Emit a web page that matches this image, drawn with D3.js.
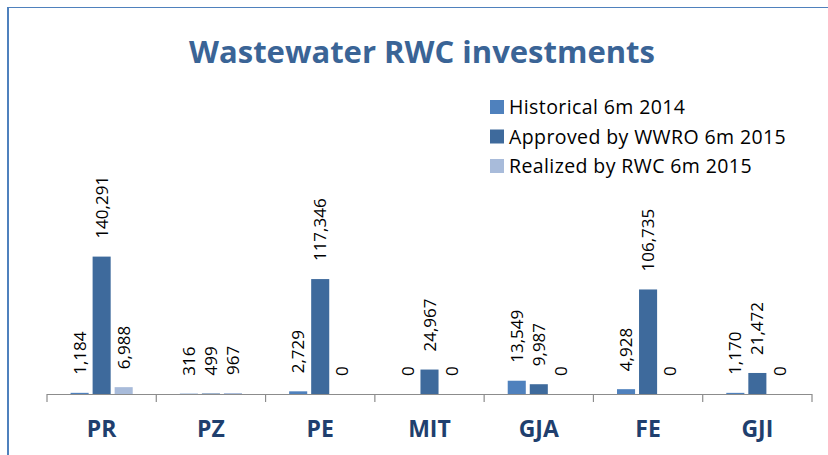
<!DOCTYPE html>
<html>
<head>
<meta charset="utf-8">
<script src="https://cdn.jsdelivr.net/npm/d3@7"></script>
<style>
  body { margin: 0; background: #fff; }
  text { font-family: "Open Sans", sans-serif; }
</style>
</head>
<body>
<svg id="chart" width="828" height="455"></svg>
<script>
// data
const categories = ["PR", "PZ", "PE", "MIT", "GJA", "FE", "GJI"];
const seriesNames = ["Historical 6m 2014", "Approved by WWRO 6m 2015", "Realized by RWC 6m 2015"];
const historical = [1184, 316, 2729, 0, 13549, 4928, 1170];
const approved = [140291, 499, 117346, 24967, 9987, 106735, 21472];
const realized = [6988, 967, 0, 0, 0, 0, 0];
const colors = ["#4f81bd", "#3e6a9c", "#a8bbda"];

const svg = d3.select("#chart");
const width = +svg.attr("width");
const height = +svg.attr("height");

const seriesValues = [historical, approved, realized];
const rows = categories.map((c, i) => ({
  cat: c,
  values: seriesNames.map((s, j) => ({ series: s, idx: j, value: seriesValues[j][i] }))
}));

// frame (left + top border only)
svg.append("line").attr("x1", 8).attr("x2", 8).attr("y1", 7).attr("y2", height)
    .style("stroke", "#4f81bd").style("stroke-width", 2);
svg.append("line").attr("x1", 7).attr("x2", width).attr("y1", 7.5).attr("y2", 7.5)
    .style("stroke", "#4f81bd").style("stroke-width", 1.2);

// title
svg.append("text")
    .text("Wastewater RWC investments")
    .attr("x", 422)
    .attr("y", 63)
    .attr("text-anchor", "middle")
    .style("font-size", "31px")
    .style("font-weight", "bold")
    .style("fill", "#3a6496");

// scales
const x0 = d3.scaleBand().domain(categories).range([47, 812]).padding(0);
const x1 = d3.scaleBand().domain(seriesNames).range([0, x0.bandwidth()])
    .paddingInner(0.18).paddingOuter(1.07);
const y = d3.scaleLinear().domain([0, 160000]).range([394, 237.3]);

// bars
const groups = svg.selectAll("g.group").data(rows).join("g")
    .attr("class", "group")
    .attr("transform", d => `translate(${x0(d.cat)},0)`);

groups.selectAll("rect").data(d => d.values).join("rect")
    .attr("x", d => x1(d.series))
    .attr("y", d => y(d.value))
    .attr("width", x1.bandwidth())
    .attr("height", d => y(0) - y(d.value))
    .style("fill", d => colors[d.idx]);

// value labels (rotated)
groups.selectAll("text.val").data(d => d.values).join("text")
    .attr("class", "val")
    .attr("transform", d => `translate(${x1(d.series) + x1.bandwidth() / 2},${y(d.value) - 18}) rotate(-90)`)
    .attr("dy", "0.36em")
    .text(d => d3.format(",")(d.value))
    .style("font-size", "17px")
    .style("fill", "#000");

// axis line + ticks at band boundaries
svg.append("line")
    .attr("x1", x0.range()[0]).attr("x2", x0.range()[1])
    .attr("y1", y(0) + 0.5).attr("y2", y(0) + 0.5)
    .style("stroke", "#8c8c8c").style("stroke-width", 1.2);
const tickXs = categories.map(c => x0(c)).concat([x0.range()[1]]);
svg.selectAll("line.tick").data(tickXs).join("line")
    .attr("class", "tick")
    .attr("x1", d => d).attr("x2", d => d)
    .attr("y1", y(0)).attr("y2", y(0) + 8)
    .style("stroke", "#8c8c8c").style("stroke-width", 1.2);

// category labels
svg.selectAll("text.cat").data(categories).join("text")
    .attr("class", "cat")
    .attr("x", d => x0(d) + x0.bandwidth() / 2)
    .attr("y", 437)
    .attr("text-anchor", "middle")
    .text(d => d)
    .style("font-size", "23px")
    .style("font-weight", "bold")
    .style("fill", "#1f3f6e");

// legend
const legend = svg.append("g").attr("transform", "translate(490,100)");
seriesNames.forEach((s, i) => {
  legend.append("rect")
      .attr("x", 0).attr("y", i * 29.5)
      .attr("width", 14).attr("height", 14)
      .style("fill", colors[i]);
  legend.append("text")
      .text(s)
      .attr("x", 19).attr("y", i * 29.5 + 7)
      .attr("dy", "0.36em")
      .style("font-size", "19.5px")
      .style("letter-spacing", "0.4px")
      .style("fill", "#000");
});
</script>
</body>
</html>
